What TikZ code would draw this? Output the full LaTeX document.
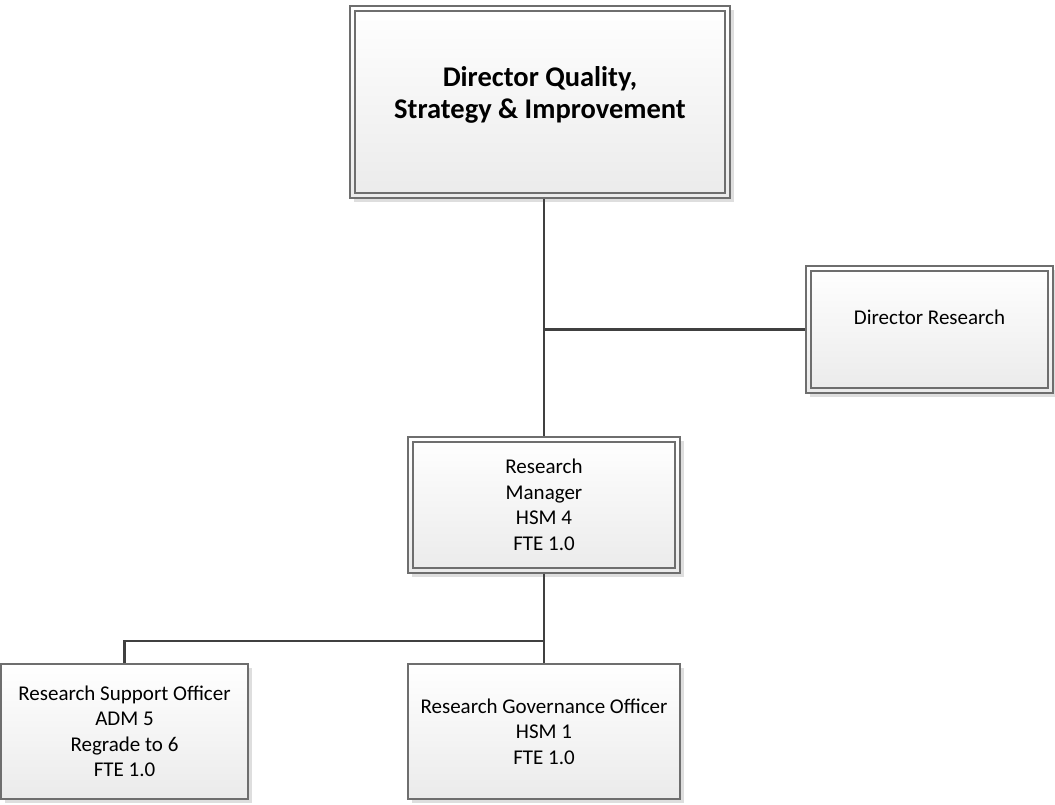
\documentclass[tikz,border=0pt]{standalone}
\usepackage{fontspec}
\setmainfont{Carlito}
\usepackage{tikz}
\usetikzlibrary{positioning, shadows, calc}

\definecolor{boxline}{RGB}{110,110,110}
\definecolor{linkgray}{RGB}{64,64,64}

\begin{document}
\begin{tikzpicture}[x=1pt, y=-1pt,
    orgbox/.style={draw=boxline, line width=1.2pt, inner sep=0pt, align=center,
      top color=white, bottom color=black!8,
      drop shadow={shadow xshift=4pt, shadow yshift=-4pt, fill=black!13, opacity=1},
      font=\fontsize{21}{25.5}\selectfont},
    dblbox/.style={orgbox, path picture={
      \draw[boxline, line width=1.2pt]
        ([shift={(5pt,-5pt)}]path picture bounding box.north west) rectangle
        ([shift={(-5pt,5pt)}]path picture bounding box.south east);}},
    link/.style={draw=linkgray, line width=2.8pt}]
  \useasboundingbox (0,0) rectangle (1055,804);

  % boxes
  \node[dblbox, minimum width=380pt, minimum height=192pt,
    font=\bfseries\fontsize{28.5}{32}\selectfont] (dqsi) at (540,102)
    {Director Quality,\\Strategy \& Improvement\\[-12pt]\mbox{}};
  \node[dblbox, minimum width=247pt, minimum height=127pt] (dirres) at (929.5,329.5)
    {Director Research\\\mbox{}};
  \node[dblbox, minimum width=272pt, minimum height=136pt] (mgr) at (544,505)
    {Research\\Manager\\HSM 4\\FTE 1.0};
  \node[orgbox, minimum width=247pt, minimum height=135pt] (rso) at (124.5,731.5)
    {Research Support Officer\\ADM 5\\Regrade to 6\\FTE 1.0};
  \node[orgbox, minimum width=272pt, minimum height=135pt] (rgo) at (544,731.5)
    {Research Governance Officer\\HSM 1\\FTE 1.0};

  % connectors
  \coordinate (split) at (544,641);
  \draw[link] (dqsi.south -| mgr.north) -- (mgr.north);
  \draw[link] (dirres.west) -- (dirres.west -| mgr.north);
  \draw[link] (mgr.south) -- (rgo.north);
  \draw[link] (rso.north) |- (split);
\end{tikzpicture}
\end{document}
